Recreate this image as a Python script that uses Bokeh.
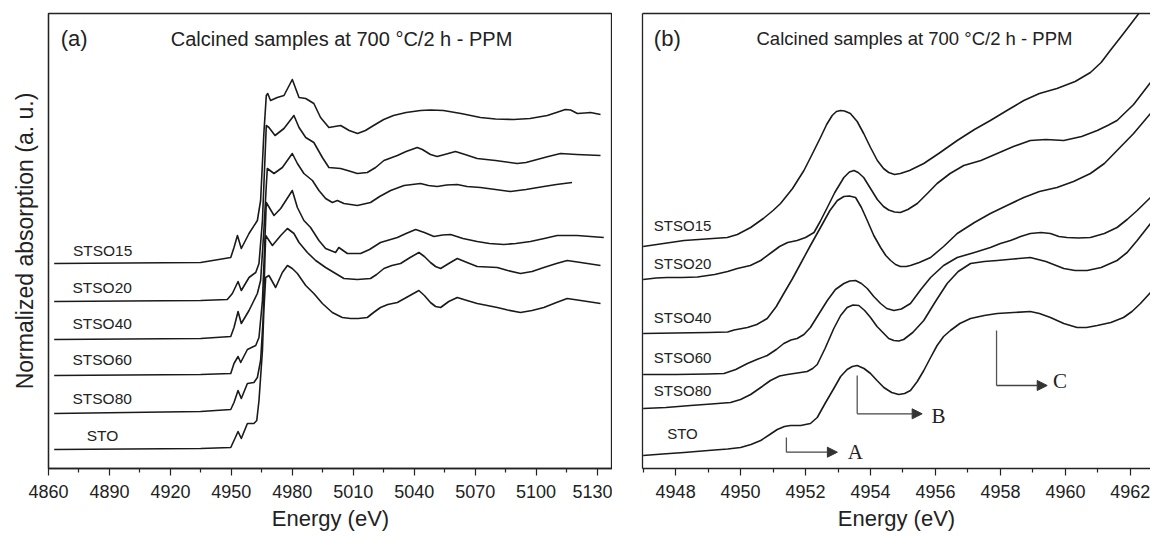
import sys
from bokeh.plotting import figure
from bokeh.layouts import row
from bokeh.models import Range1d, FixedTicker, Label, Arrow, NormalHead, LinearAxis, ColumnDataSource
from bokeh.embed import file_html
from bokeh.resources import INLINE
from bokeh.core.properties import value

FONT = "Liberation Sans"
SERIF = "Liberation Serif"
INK = "#1a1a1a"

samples = ["STSO15", "STSO20", "STSO40", "STSO60", "STSO80", "STO"]

# ---------------- panel (a): full XANES, stacked (a.u.) ----------------
a_STSO15_E = [4862.8, 4934.9, 4943.8, 4949.7, 4951.3, 4953.0, 4954.9, 4958.7, 4962.8, 4964.4, 4966.0, 4967.2,
              4967.9, 4969.3, 4972.6, 4975.9, 4980.0, 4983.3, 4986.6, 4990.6, 4993.9, 4998.0,
              5003.8, 5008.0, 5012.1, 5016.0, 5020.0, 5025.0, 5029.8, 5036.0, 5043.1, 5048.0, 5054.4, 5063.0,
              5072.6, 5080.0, 5088.9, 5097.0, 5105.5, 5110.0, 5114.4, 5117.0, 5120.3, 5124.0, 5126.8, 5131.7]
a_STSO15_y = [2.05, 2.06, 2.09, 2.11, 2.21, 2.33, 2.20, 2.35, 2.48, 2.68, 3.35, 3.73,
              3.75, 3.68, 3.71, 3.73, 3.89, 3.71, 3.70, 3.65, 3.51, 3.41,
              3.43, 3.38, 3.35, 3.38, 3.43, 3.49, 3.53, 3.56, 3.58, 3.585, 3.58, 3.55,
              3.51, 3.495, 3.49, 3.50, 3.53, 3.56, 3.59, 3.585, 3.55, 3.555, 3.56, 3.54]

a_STSO20_E = [4862.8, 4934.9, 4948.0, 4950.5, 4953.3, 4954.9, 4958.7, 4962.0, 4963.6, 4965.3, 4966.5, 4967.2,
              4968.5, 4971.5, 4975.9, 4980.8, 4983.3, 4986.6, 4990.6, 4994.8, 4998.0, 5003.8,
              5008.0, 5012.0, 5016.9, 5021.0, 5025.1, 5031.7, 5036.0, 5041.5, 5044.0, 5048.0, 5051.3, 5055.0,
              5060.3, 5065.0, 5071.0, 5080.0, 5090.7, 5095.0, 5100.5, 5106.0, 5112.0, 5120.0, 5131.7]
a_STSO20_y = [1.67, 1.68, 1.69, 1.75, 1.87, 1.78, 1.91, 1.96, 2.05, 2.48, 3.08, 3.43,
              3.41, 3.33, 3.40, 3.53, 3.41, 3.31, 3.26, 3.11, 3.01, 3.00,
              2.975, 2.95, 2.96, 3.01, 3.08, 3.13, 3.17, 3.21, 3.19, 3.14, 3.12, 3.14,
              3.17, 3.14, 3.10, 3.08, 3.05, 3.06, 3.09, 3.12, 3.15, 3.14, 3.13]

a_STSO40_E = [4862.8, 4934.9, 4949.7, 4951.3, 4953.3, 4954.9, 4958.7, 4962.8, 4964.4, 4966.0, 4967.2, 4967.7,
              4971.0, 4975.1, 4980.0, 4982.5, 4985.7, 4989.9, 4993.1, 4996.4, 4999.7,
              5002.2, 5005.4, 5012.0, 5018.5, 5023.0, 5028.4, 5035.0, 5043.1, 5047.0, 5051.3, 5056.0, 5061.2,
              5066.0, 5072.6, 5080.0, 5087.4, 5095.0, 5103.8, 5110.0, 5117.7]
a_STSO40_y = [1.29, 1.30, 1.32, 1.41, 1.57, 1.45, 1.58, 1.75, 1.88, 2.38, 2.83, 3.00,
              2.95, 3.01, 3.15, 3.05, 2.95, 2.88, 2.78, 2.70, 2.66,
              2.68, 2.65, 2.63, 2.66, 2.72, 2.78, 2.83, 2.85, 2.83, 2.82, 2.835, 2.84,
              2.82, 2.81, 2.79, 2.77, 2.79, 2.82, 2.84, 2.86]

a_STSO60_E = [4862.8, 4934.9, 4949.7, 4951.3, 4953.3, 4954.6, 4957.9, 4962.0, 4963.6, 4965.3, 4966.5, 4967.2,
              4971.0, 4974.3, 4980.0, 4982.5, 4985.7, 4989.0, 4993.1, 4996.4,
              5001.3, 5002.9, 5007.1, 5013.6, 5018.0, 5023.4, 5031.7, 5036.0, 5040.7, 5045.0, 5049.7, 5054.0,
              5057.9, 5064.0, 5071.0, 5077.0, 5084.1, 5090.0, 5097.2, 5104.0, 5110.4, 5120.2, 5133.3]
a_STSO60_y = [0.93, 0.94, 0.95, 1.05, 1.12, 1.06, 1.19, 1.23, 1.31, 1.68, 2.28, 2.66,
              2.53, 2.60, 2.78, 2.61, 2.48, 2.41, 2.28, 2.20,
              2.16, 2.21, 2.15, 2.15, 2.19, 2.26, 2.31, 2.35, 2.39, 2.36, 2.32, 2.335,
              2.34, 2.30, 2.27, 2.25, 2.24, 2.25, 2.27, 2.30, 2.33, 2.33, 2.31]

a_STSO80_E = [4862.8, 4934.9, 4949.7, 4951.3, 4953.3, 4954.9, 4957.9, 4961.1, 4962.8, 4964.4, 4965.6, 4966.5,
              4966.9, 4970.2, 4974.3, 4977.6, 4980.8, 4983.3, 4987.4, 4991.5, 4996.4, 5001.3,
              5005.4, 5012.0, 5018.5, 5021.5, 5025.1, 5029.0, 5033.3, 5038.0, 5042.3, 5045.0, 5048.0, 5050.5,
              5053.0, 5057.0, 5061.2, 5066.0, 5071.0, 5076.0, 5080.9, 5086.0, 5092.3, 5098.0, 5103.8, 5110.0,
              5115.3, 5122.0, 5131.7]
a_STSO80_y = [0.55, 0.57, 0.59, 0.66, 0.78, 0.70, 0.85, 0.86, 0.91, 1.08, 1.48, 2.08,
              2.33, 2.23, 2.33, 2.40, 2.35, 2.26, 2.16, 2.08, 2.01, 1.95,
              1.90, 1.89, 1.90, 1.94, 2.00, 2.03, 2.05, 2.11, 2.16, 2.12, 2.06, 2.02,
              2.00, 2.05, 2.10, 2.06, 2.02, 2.015, 2.01, 1.98, 1.95, 1.97, 2.01, 2.05,
              2.08, 2.06, 2.03]

a_STO_E = [4862.8, 4934.9, 4949.7, 4951.3, 4953.3, 4954.9, 4957.9, 4961.1, 4962.5, 4963.6, 4965.3, 4966.0,
           4966.9, 4968.5, 4971.8, 4975.1, 4977.6, 4980.0, 4982.5, 4986.6, 4990.6, 4994.8, 4999.7, 5004.6,
           5008.7, 5012.5, 5016.9, 5020.0, 5023.4, 5027.0, 5031.7, 5037.0, 5042.3, 5045.0, 5048.0, 5050.5,
           5053.0, 5057.0, 5061.2, 5066.0, 5071.0, 5076.0, 5080.9, 5086.0, 5092.3, 5098.0, 5103.8, 5110.0,
           5115.3, 5122.0, 5131.7]
a_STO_y = [0.19, 0.20, 0.21, 0.28, 0.37, 0.30, 0.45, 0.45, 0.48, 0.68, 1.18, 1.58,
           1.91, 1.93, 1.81, 1.96, 2.03, 2.00, 1.95, 1.83, 1.75, 1.65, 1.56, 1.51,
           1.50, 1.50, 1.51, 1.56, 1.61, 1.64, 1.66, 1.72, 1.78, 1.73, 1.66, 1.62,
           1.61, 1.67, 1.71, 1.68, 1.65, 1.63, 1.61, 1.585, 1.56, 1.58, 1.61, 1.66,
           1.70, 1.68, 1.65]

a_ticks = [4860, 4890, 4920, 4950, 4980, 5010, 5040, 5070, 5100, 5130]
a_minor = [4875, 4905, 4935, 4965, 4995, 5025, 5055, 5085, 5115]
a_label_x = [4872.0, 4871.8, 4871.8, 4871.8, 4871.8, 4878.8]
a_label_y = [2.18, 1.81, 1.45, 1.09, 0.70, 0.33]

# ---------------- panel (b): pre-edge / edge region ----------------
b_STSO15_E = [4947.0, 4948.26, 4949.59, 4949.9, 4950.31, 4950.7, 4951.0, 4951.23, 4951.6, 4951.95, 4952.2,
              4952.46, 4952.65, 4952.82, 4952.95, 4953.08, 4953.2, 4953.38, 4953.59, 4953.79, 4954.0, 4954.21,
              4954.4, 4954.56, 4954.74, 4954.92, 4955.2, 4955.64, 4956.1, 4956.67, 4957.2, 4957.69, 4958.2,
              4958.72, 4959.2, 4959.74, 4960.3, 4960.77, 4961.1, 4961.38, 4961.79, 4962.26, 4962.62]
b_STSO15_y = [2.22, 2.28, 2.31, 2.34, 2.41, 2.50, 2.58, 2.65, 2.80, 2.98, 3.14,
              3.31, 3.44, 3.53, 3.57, 3.58, 3.575, 3.55, 3.47, 3.35, 3.21, 3.08,
              3.00, 2.96, 2.94, 2.95, 2.98, 3.05, 3.15, 3.28, 3.39, 3.48, 3.58,
              3.68, 3.75, 3.80, 3.87, 3.96, 4.06, 4.18, 4.35, 4.55, 4.70]

b_STSO20_E = [4947.0, 4947.4, 4947.74, 4948.2, 4948.67, 4949.2, 4949.6, 4949.9, 4950.3, 4950.62, 4950.95,
              4951.2, 4951.45, 4951.74, 4952.0, 4952.26, 4952.45, 4952.67, 4952.9, 4953.18, 4953.35, 4953.49,
              4953.62, 4953.79, 4954.0, 4954.21, 4954.4, 4954.56, 4954.74, 4954.92, 4955.15, 4955.44, 4955.75,
              4956.05, 4956.45, 4956.87, 4957.4, 4957.9, 4958.4, 4958.92, 4959.4, 4959.95, 4960.5, 4960.98,
              4961.3, 4961.59, 4962.1, 4962.62]
b_STSO20_y = [1.89, 1.905, 1.91, 1.91, 1.915, 1.94, 1.97, 2.00, 2.03, 2.08, 2.16,
              2.22, 2.26, 2.28, 2.31, 2.36, 2.47, 2.61, 2.76, 2.91, 2.965, 2.98,
              2.96, 2.91, 2.80, 2.69, 2.62, 2.585, 2.565, 2.56, 2.59, 2.65, 2.75,
              2.85, 2.95, 3.03, 3.08, 3.15, 3.22, 3.28, 3.29, 3.28, 3.32, 3.38,
              3.43, 3.48, 3.64, 3.86]

b_STSO40_E = [4947.0, 4948.0, 4949.0, 4949.6, 4949.8, 4950.21, 4950.5, 4950.82, 4951.1, 4951.33, 4951.6,
              4951.85, 4952.15, 4952.46, 4952.75, 4952.98, 4953.18, 4953.35, 4953.54, 4953.72, 4953.9, 4954.1,
              4954.31, 4954.47, 4954.62, 4954.77, 4954.92, 4955.1, 4955.23, 4955.5, 4955.85, 4956.25, 4956.67,
              4957.2, 4957.69, 4958.2, 4958.72, 4959.2, 4959.74, 4960.25, 4960.77, 4961.2, 4961.59, 4962.1,
              4962.62]
b_STSO40_y = [1.35, 1.355, 1.36, 1.365, 1.385, 1.41, 1.44, 1.50, 1.62, 1.75, 1.90,
              2.05, 2.23, 2.41, 2.58, 2.68, 2.72, 2.725, 2.71, 2.61, 2.48, 2.33,
              2.21, 2.13, 2.08, 2.04, 2.02, 2.02, 2.03, 2.06, 2.11, 2.22, 2.35,
              2.46, 2.55, 2.63, 2.71, 2.77, 2.81, 2.87, 2.95, 3.05, 3.18, 3.35,
              3.55]

b_STSO60_E = [4947.0, 4948.0, 4949.0, 4949.49, 4949.85, 4950.21, 4950.5, 4950.82, 4951.1, 4951.33, 4951.55,
              4951.74, 4951.95, 4952.15, 4952.4, 4952.67, 4952.92, 4953.18, 4953.36, 4953.54, 4953.72, 4953.9,
              4954.1, 4954.31, 4954.5, 4954.72, 4954.95, 4955.23, 4955.55, 4955.85, 4956.25, 4956.67, 4957.2,
              4957.69, 4958.0, 4958.31, 4958.62, 4958.92, 4959.25, 4959.54, 4959.8, 4960.05, 4960.4, 4960.77,
              4961.2, 4961.59, 4961.9, 4962.21, 4962.62]
b_STSO60_y = [0.94, 0.94, 0.945, 0.95, 0.99, 1.05, 1.09, 1.13, 1.19, 1.25, 1.285,
              1.30, 1.34, 1.41, 1.54, 1.68, 1.79, 1.85, 1.875, 1.88, 1.85, 1.80,
              1.72, 1.65, 1.60, 1.58, 1.595, 1.65, 1.79, 1.91, 2.03, 2.11, 2.16,
              2.21, 2.25, 2.28, 2.32, 2.35, 2.36, 2.35, 2.32, 2.31, 2.305, 2.31,
              2.35, 2.41, 2.49, 2.58, 2.71]

b_STSO80_E = [4947.0, 4947.7, 4948.46, 4949.1, 4949.69, 4950.0, 4950.31, 4950.62, 4950.92, 4951.2, 4951.44,
              4951.75, 4952.05, 4952.22, 4952.36, 4952.6, 4952.87, 4953.08, 4953.28, 4953.46, 4953.64, 4953.82,
              4954.0, 4954.2, 4954.41, 4954.56, 4954.72, 4954.87, 4955.02, 4955.3, 4955.64, 4956.0, 4956.36,
              4956.7, 4957.08, 4957.5, 4957.9, 4958.4, 4958.92, 4959.4, 4959.95, 4960.3, 4960.67, 4961.1,
              4961.59, 4961.9, 4962.21, 4962.62]
b_STSO80_y = [0.60, 0.61, 0.63, 0.645, 0.66, 0.69, 0.74, 0.81, 0.88, 0.925, 0.94,
              0.955, 0.97, 1.00, 1.04, 1.20, 1.40, 1.53, 1.61, 1.635, 1.63, 1.58,
              1.51, 1.42, 1.35, 1.30, 1.28, 1.275, 1.29, 1.36, 1.48, 1.67, 1.85,
              1.97, 2.05, 2.07, 2.08, 2.095, 2.11, 2.07, 2.00, 1.98, 1.98, 2.01,
              2.08, 2.16, 2.28, 2.45]

b_STO_E = [4947.0, 4947.6, 4948.26, 4949.0, 4949.6, 4950.0, 4950.32, 4950.62, 4950.9, 4951.13, 4951.35,
           4951.54, 4951.85, 4952.15, 4952.36, 4952.6, 4952.87, 4953.08, 4953.28, 4953.44, 4953.59, 4953.8,
           4954.0, 4954.2, 4954.41, 4954.65, 4954.87, 4955.05, 4955.23, 4955.44, 4955.64, 4955.85, 4956.05,
           4956.25, 4956.46, 4956.75, 4957.08, 4957.5, 4957.9, 4958.4, 4958.92, 4959.2, 4959.54, 4959.95,
           4960.36, 4960.65, 4960.98, 4961.4, 4961.79, 4962.05, 4962.31, 4962.62]
b_STO_y = [0.13, 0.145, 0.16, 0.18, 0.195, 0.21, 0.24, 0.28, 0.34, 0.39, 0.42,
           0.43, 0.43, 0.45, 0.51, 0.65, 0.80, 0.92, 0.99, 1.02, 1.03, 1.00,
           0.95, 0.88, 0.81, 0.76, 0.74, 0.75, 0.78, 0.87, 0.98, 1.11, 1.23,
           1.32, 1.38, 1.45, 1.50, 1.53, 1.55, 1.56, 1.57, 1.55, 1.51, 1.45,
           1.41, 1.41, 1.43, 1.46, 1.51, 1.57, 1.65, 1.76]

b_ticks = [4948, 4950, 4952, 4954, 4956, 4958, 4960, 4962]
b_minor = [4947, 4949, 4951, 4953, 4955, 4957, 4959, 4961]
b_label_x = [4947.33, 4947.33, 4947.33, 4947.33, 4947.33, 4947.74]
b_label_y = [2.43, 2.05, 1.51, 1.11, 0.78, 0.35]

# feature markers A, B, C: vertical start (x, y_top), corner y, arrow end x
feat_names = ["A", "B", "C"]
feat_x = [4951.41, 4953.59, 4957.88]
feat_ytop = [0.31, 0.93, 1.38]
feat_ycorner = [0.163, 0.547, 0.83]
feat_xend = [4952.98, 4955.59, 4959.44]
feat_label_x = [4953.30, 4955.88, 4959.62]
feat_label_y = [0.165, 0.53, 0.88]

title_text = "Calcined samples at 700 \u00b0C/2 h - PPM"

a_series = [(a_STSO15_E, a_STSO15_y), (a_STSO20_E, a_STSO20_y), (a_STSO40_E, a_STSO40_y),
            (a_STSO60_E, a_STSO60_y), (a_STSO80_E, a_STSO80_y), (a_STO_E, a_STO_y)]
b_series = [(b_STSO15_E, b_STSO15_y), (b_STSO20_E, b_STSO20_y), (b_STSO40_E, b_STSO40_y),
            (b_STSO60_E, b_STSO60_y), (b_STSO80_E, b_STSO80_y), (b_STO_E, b_STO_y)]


def paired(xs, ys, name):
    if len(xs) != len(ys):
        print("length mismatch", name, len(xs), len(ys), file=sys.stderr)
    n = min(len(xs), len(ys))
    return xs[:n], ys[:n]


def style_axis_common(p):
    p.xgrid.visible = False
    p.ygrid.visible = False
    p.background_fill_color = "white"
    p.border_fill_color = "white"
    for ax in p.xaxis:
        ax.major_tick_in = 0
        ax.major_tick_out = 7
        ax.minor_tick_in = 0
        ax.minor_tick_out = 4
        ax.major_label_standoff = 9
        ax.major_label_text_font = FONT
        ax.major_label_text_font_size = "18px"
        ax.major_label_text_color = "#222222"
        ax.axis_label = "Energy (eV)"
        ax.axis_label_text_font = FONT
        ax.axis_label_text_font_size = "22px"
        ax.axis_label_text_font_style = "normal"
        ax.axis_label_text_color = "#222222"
        ax.axis_label_standoff = 5
        ax.axis_line_color = "#222222"
        ax.axis_line_width = 1.3
        ax.major_tick_line_color = "#222222"
        ax.minor_tick_line_color = "#222222"
        ax.major_tick_line_width = 1.2
        ax.minor_tick_line_width = 1.2
    for ax in p.yaxis:
        ax.ticker = FixedTicker(ticks=[])
        ax.major_tick_out = 0
        ax.major_tick_in = 0
        ax.minor_tick_out = 0
        ax.minor_tick_in = 0
        ax.major_label_standoff = 0
        ax.axis_line_color = "#222222"
        ax.axis_line_width = 1.3


# ---------------- figure (a) ----------------
pa = figure(width=612, height=536, x_range=Range1d(4860, 5137.6), y_range=Range1d(0, 4.55),
            output_backend="svg", toolbar_location=None,
            min_border_left=48, min_border_right=0, min_border_top=13, min_border_bottom=68)
style_axis_common(pa)
pa.xaxis.ticker = FixedTicker(ticks=a_ticks, minor_ticks=a_minor)
pa.yaxis.axis_label = "Normalized absorption (a. u.)"
pa.yaxis.axis_label_text_font = FONT
pa.yaxis.axis_label_text_font_size = "23px"
pa.yaxis.axis_label_text_font_style = "normal"
pa.yaxis.axis_label_text_color = "#222222"
pa.yaxis.axis_label_standoff = 11
pa.outline_line_color = "#222222"
pa.outline_line_width = 1.3

for i, (xs, ys) in enumerate(a_series):
    xs, ys = paired(xs, ys, "a%d" % i)
    pa.line(xs, ys, line_color=INK, line_width=1.6, line_join="round")

src_a = ColumnDataSource(dict(x=a_label_x, y=a_label_y, t=samples))
pa.text(x="x", y="y", text="t", source=src_a, text_font=value(FONT), text_font_size="15.5px",
        text_baseline="middle", text_align="left", text_color="#222222")

pa.add_layout(Label(x=4866.0, y=4.30, text="(a)", text_font=FONT, text_font_size="22px",
                    text_baseline="middle", text_color="#222222"))
pa.add_layout(Label(x=4920.2, y=4.30, text=title_text, text_font=FONT, text_font_size="20px",
                    text_baseline="middle", text_color="#222222"))

# ---------------- figure (b) ----------------
pb = figure(width=538, height=536, x_range=Range1d(4946.98, 4962.62), y_range=Range1d(0, 4.55),
            output_backend="svg", toolbar_location=None,
            min_border_left=30, min_border_right=0, min_border_top=13, min_border_bottom=68)
style_axis_common(pb)
pb.xaxis.ticker = FixedTicker(ticks=b_ticks, minor_ticks=b_minor)
pb.outline_line_color = None
top_axis = LinearAxis(ticker=FixedTicker(ticks=[]), major_tick_out=0, major_tick_in=0,
                      minor_tick_out=0, minor_tick_in=0, major_label_standoff=0,
                      axis_line_color="#222222", axis_line_width=1.3)
pb.add_layout(top_axis, "above")

for i, (xs, ys) in enumerate(b_series):
    xs, ys = paired(xs, ys, "b%d" % i)
    pb.line(xs, ys, line_color=INK, line_width=1.6, line_join="round")

src_b = ColumnDataSource(dict(x=b_label_x, y=b_label_y, t=samples))
pb.text(x="x", y="y", text="t", source=src_b, text_font=value(FONT), text_font_size="15px",
        text_baseline="middle", text_align="left", text_color="#222222")

pb.segment(x0=feat_x, y0=feat_ytop, x1=feat_x, y1=feat_ycorner, line_color="#555555", line_width=1.3)
for i in range(len(feat_names)):
    pb.add_layout(Arrow(end=NormalHead(size=10, fill_color="#333333", line_color="#333333"),
                        x_start=feat_x[i], y_start=feat_ycorner[i], x_end=feat_xend[i], y_end=feat_ycorner[i],
                        line_color="#444444", line_width=1.3))
src_f = ColumnDataSource(dict(x=feat_label_x, y=feat_label_y, t=feat_names))
pb.text(x="x", y="y", text="t", source=src_f, text_font=value(SERIF), text_font_size="21px",
        text_baseline="middle", text_align="left", text_color="#222222")

pb.add_layout(Label(x=4947.33, y=4.30, text="(b)", text_font=FONT, text_font_size="22px",
                    text_baseline="middle", text_color="#222222"))
pb.add_layout(Label(x=4950.49, y=4.30, text=title_text, text_font=FONT, text_font_size="18.5px",
                    text_baseline="middle", text_color="#222222"))

layout = row(pa, pb)
open("out.html", "w").write(file_html(layout, INLINE))
